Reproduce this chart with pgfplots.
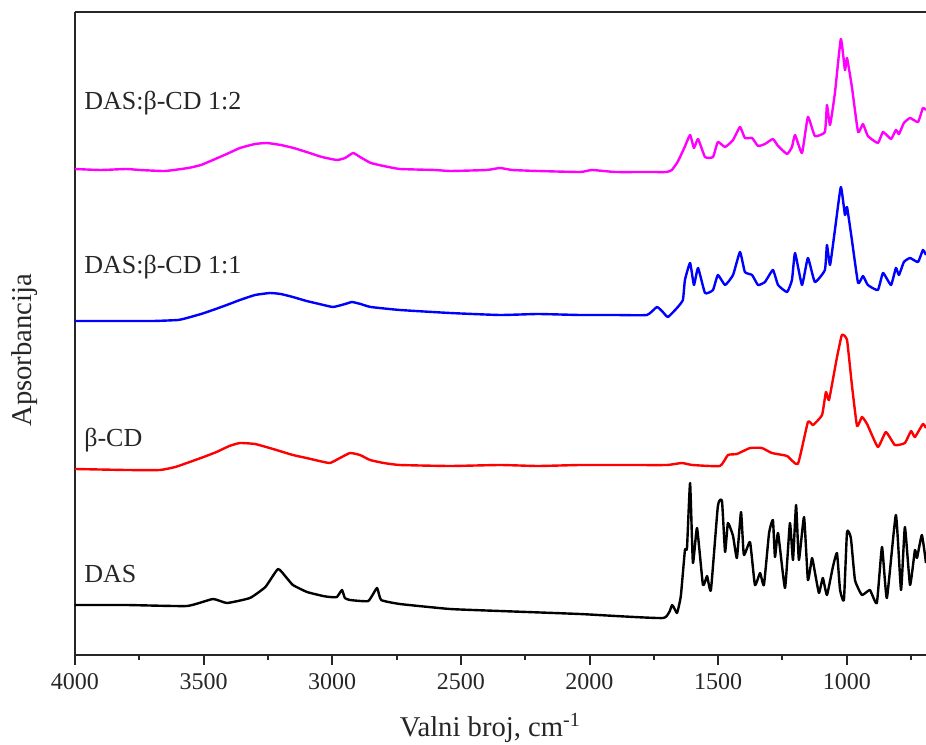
\documentclass[border=0pt]{standalone}
\usepackage{pgfplots}
\pgfplotsset{compat=1.18}
\usepackage{fontspec}
\setmainfont{Liberation Serif}
\definecolor{cmag}{RGB}{255,0,255}
\definecolor{cblue}{RGB}{0,0,255}
\definecolor{cred}{RGB}{255,0,0}
\begin{document}
\begin{tikzpicture}
\begin{axis}[
  scale only axis,
  width=638.25pt, height=482.25pt,
  x dir=reverse,
  xmin=692, xmax=4000,
  ymin=0, ymax=643,
  axis x line*=bottom, axis y line*=left,
  axis line style={line width=1.5pt, black!85},
  xtick={1000,1500,2000,2500,3000,3500,4000},
  minor xtick={750,1250,1750,2250,2750,3250,3750},
  ytick=\empty,
  tick align=outside,
  major tick length=7.5pt, minor tick length=3.75pt,
  every tick/.style={line width=1.5pt, black!85},
  /pgf/number format/assume math mode=true,
  /pgf/number format/1000 sep={},
  xticklabel style={font=\fontsize{18}{20}\selectfont, text=black!85, yshift=-3pt},
  xlabel={Valni broj, cm\textsuperscript{-1}},
  ylabel={Apsorbancija},
  x label style={at={(axis description cs:0.488,0)}, anchor=center, yshift=-55pt, font=\fontsize{21.5}{24}\selectfont, text=black!85},
  y label style={at={(axis description cs:-0.0588,0.474)}, anchor=center, rotate=0, font=\fontsize{21.5}{24}\selectfont, text=black!85},
  every axis plot/.append style={line width=1.8pt, line join=round, smooth, tension=0.25},
  clip=false,
]
% DAS:beta-CD 1:2
\addplot[cmag] coordinates {
(4000,486) (3900,485) (3800,486) (3747,485) (3650,484) (3560,487) (3510,490) (3464,495) (3410,501) (3359,507) (3300,511) (3254,512) (3200,510) (3150,507) (3100,503) (3040,498) (2982,495) (2950,497) (2919,502) (2892,498) (2850,492) (2800,489) (2737,486) (2600,485) (2542,484) (2400,485) (2348,487) (2300,485) (2200,484) (2037,483) (1990,485) (1900,483) (1777,483) (1700,483) (1680,485) (1660,492) (1648,498) (1630,508) (1609,520) (1594,507) (1578,516) (1551,498) (1520,498) (1501,513) (1473,508) (1442,515) (1415,528) (1396,517) (1368,517) (1345,509) (1318,511) (1287,516) (1267,509) (1232,501) (1213,508) (1201,520) (1174,502) (1151,538) (1124,519) (1085,523) (1077,550) (1065,530) (1046,562) (1023,616) (1007,585) (999,597) (980,568) (956,523) (937,531) (918,519) (879,512) (859,523) (828,516) (809,525) (797,521) (778,532) (754,537) (723,533) (704,547) (692,545)
};
% DAS:beta-CD 1:1
\addplot[cblue] coordinates {
(4000,334) (3850,334) (3697,334) (3600,335) (3565,337) (3510,341) (3464,345) (3410,350) (3359,355) (3300,360) (3242,362) (3200,361) (3153,358) (3100,354) (3050,351) (2997,348) (2950,351) (2923,353) (2890,351) (2850,348) (2737,345) (2542,342) (2348,340) (2200,341) (2037,340) (1900,340) (1777,340) (1738,348) (1715,343) (1695,338) (1660,347) (1637,355) (1629,375) (1609,392) (1594,370) (1578,387) (1551,362) (1520,365) (1501,380) (1473,370) (1442,380) (1415,403) (1396,383) (1368,380) (1345,370) (1318,373) (1287,385) (1267,370) (1232,363) (1213,375) (1201,402) (1174,370) (1151,397) (1124,373) (1085,385) (1077,410) (1065,390) (1046,425) (1023,468) (1007,440) (999,448) (980,415) (956,372) (937,379) (918,370) (879,365) (859,382) (828,370) (809,387) (797,380) (778,393) (754,397) (723,393) (704,405) (692,400)
};
% beta-CD
\addplot[cred] coordinates {
(4000,186) (3800,185) (3670,185) (3610,188) (3565,192) (3500,198) (3450,203) (3400,209) (3359,212) (3300,211) (3230,206) (3153,200) (3100,197) (3050,194) (3009,192) (2970,197) (2931,202) (2892,200) (2853,195) (2800,192) (2737,190) (2542,189) (2348,190) (2200,189) (2037,190) (1850,190) (1699,190) (1641,192) (1600,190) (1493,189) (1462,200) (1427,201) (1376,207) (1330,207) (1291,202) (1232,199) (1190,191) (1151,233) (1131,230) (1096,240) (1081,263) (1069,255) (1040,295) (1019,320) (999,315) (980,270) (960,229) (941,238) (921,231) (879,208) (848,223) (813,210) (774,212) (750,224) (735,218) (704,231) (692,227)
};
% DAS
\addplot[black] coordinates {
(4000,50) (3800,50) (3565,49) (3464,56) (3409,52) (3320,57) (3260,68) (3211,86) (3180,78) (3153,70) (3098,63) (3036,59) (3009,58) (2982,58) (2962,65) (2951,57) (2931,55) (2860,54) (2826,67) (2810,55) (2737,51) (2542,46) (2348,44) (2037,41) (1714,37) (1679,50) (1660,42) (1645,59) (1629,105) (1621,107) (1609,172) (1598,92) (1582,127) (1559,70) (1543,79) (1528,65) (1501,149) (1485,154) (1473,103) (1462,132) (1442,119) (1427,97) (1411,143) (1400,100) (1376,113) (1357,70) (1337,82) (1322,70) (1302,122) (1287,135) (1279,98) (1267,122) (1240,67) (1221,132) (1209,95) (1197,150) (1186,95) (1166,138) (1151,75) (1135,97) (1124,83) (1108,62) (1093,77) (1077,60) (1054,88) (1038,102) (1026,65) (1011,55) (999,123) (984,117) (968,75) (941,60) (910,65) (883,52) (863,108) (844,57) (809,140) (789,65) (774,128) (754,70) (735,105) (727,97) (708,120) (692,92)
};
\draw[line width=1.5pt, black!85] (rel axis cs:0,1) -- (rel axis cs:1,1);
\begin{scope}[every node/.style={anchor=west, font=\fontsize{19.5}{22}\selectfont, text=black!85}]
\node at (axis cs:3982,552) {DAS:β-CD 1:2};
\node at (axis cs:3982,388) {DAS:β-CD 1:1};
\node at (axis cs:3982,215) {β-CD};
\node at (axis cs:3982,81) {DAS};
\end{scope}
\coordinate (bl) at (rel axis cs:0,0);
\coordinate (tr) at (rel axis cs:1,1);
\end{axis}
\pgfresetboundingbox
\path (bl) ++(-56.25pt,-66.75pt) coordinate (BL);
\path (tr) ++(0pt,9pt) coordinate (TR);
\path[use as bounding box] (BL) rectangle (TR);
\end{tikzpicture}
\end{document}
